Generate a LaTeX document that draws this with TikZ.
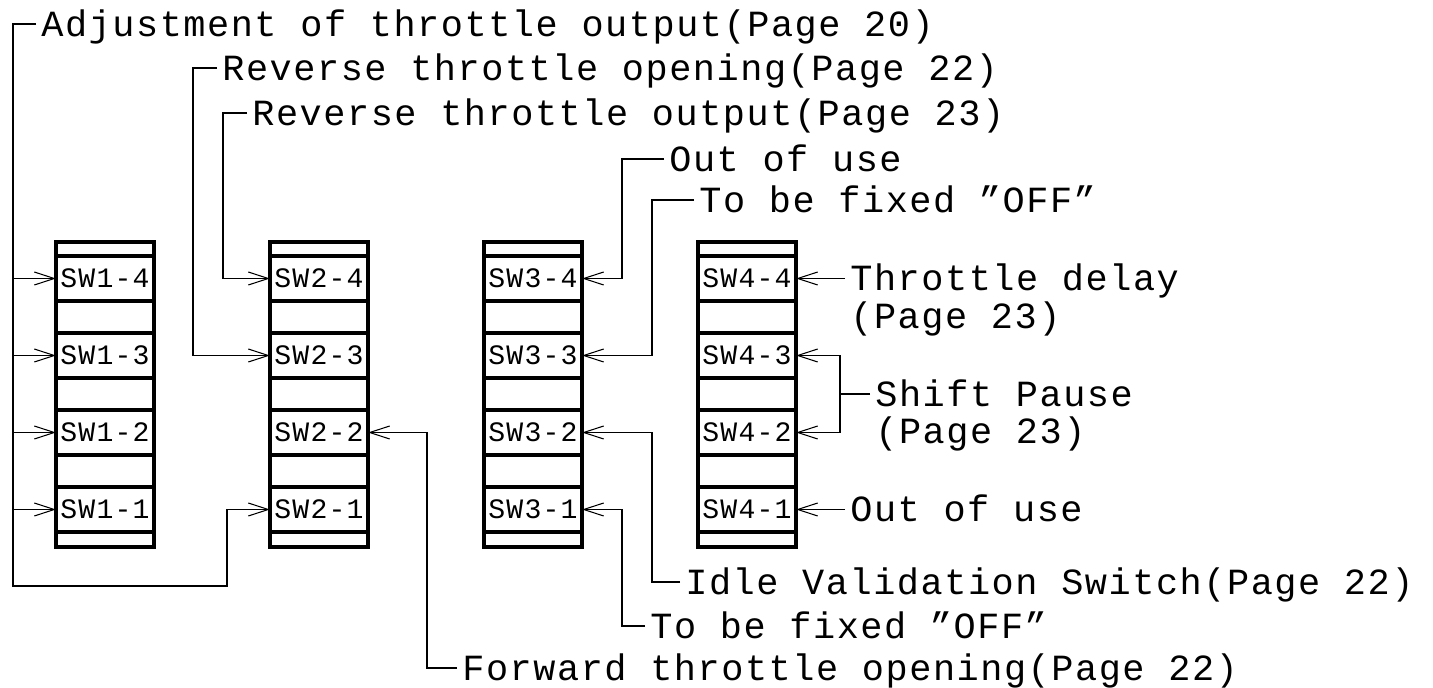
\documentclass[tikz,border=0pt]{standalone}
\usepackage{fontspec}
\newfontfamily\lblfont{Liberation Mono}[LetterSpace=4.2]
\usetikzlibrary{positioning, arrows.meta, calc}

\begin{document}
\begin{tikzpicture}[
    x=0.02cm, y=-0.02cm,
    cell/.style={
        rectangle,
        draw=black,
        line width=1.9pt,
        minimum width=1.96cm,
        minimum height=0.9cm,
        inner sep=0pt,
        outer sep=0pt,
        font=\lblfont\fontsize{16}{18}\selectfont
    },
    frame/.style={
        draw=black,
        line width=2.1pt
    },
    lbl/.style={
        anchor=west,
        inner xsep=0.1cm,
        inner ysep=0pt,
        text height=13.8pt,
        text depth=0pt,
        font=\lblfont\fontsize{21}{25}\selectfont
    },
    wire/.style={
        draw=black,
        line width=0.6pt
    },
    arr/.style={
        wire,
        -{Straight Barb[length=0.4cm, width=0.26cm]}
    }
]
    \useasboundingbox (0,0) rectangle (1433,688);

    % Switch blocks
    \foreach \c/\cx in {1/105, 2/319, 3/533, 4/747} {
        \draw[frame] (\cx-49, 242) rectangle (\cx+49, 547);
        \foreach \r/\cy in {4/278.5, 3/355.5, 2/432.5, 1/509.5}
            \node[cell] (sw\c\r) at (\cx, \cy) {SW\c-\r};
    }

    % Labels, top
    \node[lbl] (adj) at (36, 24) {Adjustment of throttle output(Page 20)};
    \node[lbl] (rto) at (217, 68) {Reverse throttle opening(Page 22)};
    \node[lbl] (rtu) at (247, 113) {Reverse throttle output(Page 23)};
    \node[lbl] (oou) at (664, 159) {Out of use};
    \node[lbl] (tbf) at (694, 200) {To be fixed ”OFF”};

    % Labels, right
    \node[lbl] (thd) at (845, 278.5) {Throttle delay};
    \node[lbl, below=0.25cm of thd.south west, anchor=north west] (thdp) {(Page 23)};
    \node[lbl] (shp) at (870, 394) {Shift Pause};
    \node[lbl, below=0.25cm of shp.south west, anchor=north west] (shpp) {(Page 23)};
    \node[lbl] (ouu) at (845, 509.5) {Out of use};

    % Labels, bottom
    \node[lbl] (ivs) at (680, 582) {Idle Validation Switch(Page 22)};
    \node[lbl] (tbo) at (645, 626) {To be fixed ”OFF”};
    \node[lbl] (fto) at (457, 668) {Forward throttle opening(Page 22)};

    % Corner columns of the leaders
    \coordinate (kA) at (13, 0);
    \coordinate (kB) at (193, 0);
    \coordinate (kC) at (223, 0);
    \coordinate (kD) at (622, 0);
    \coordinate (kE) at (652, 0);
    \coordinate (kF) at (427, 0);
    \coordinate (kG) at (840, 0);
    \coordinate (kH) at (227, 586);

    % Adjustment bus to SW1 and SW2-1
    \draw[arr] (adj.west) -| (kA |- kH) -- (kH) |- (sw21.west);
    \foreach \r in {1,...,4}
        \draw[arr] (kA |- sw1\r.west) -- (sw1\r.west);

    % SW2 leaders
    \draw[arr] (rto.west) -| (kB |- sw23.west) -- (sw23.west);
    \draw[arr] (rtu.west) -| (kC |- sw24.west) -- (sw24.west);
    \draw[arr] (fto.west) -| (kF |- sw22.east) -- (sw22.east);

    % SW3 leaders
    \draw[arr] (oou.west) -| (kD |- sw34.east) -- (sw34.east);
    \draw[arr] (tbf.west) -| (kE |- sw33.east) -- (sw33.east);
    \draw[arr] (ivs.west) -| (kE |- sw32.east) -- (sw32.east);
    \draw[arr] (tbo.west) -| (kD |- sw31.east) -- (sw31.east);

    % SW4 leaders
    \draw[arr] (thd.west) -- (sw44.east);
    \draw[arr] (ouu.west) -- (sw41.east);
    \draw[wire] (shp.west) -- (kG |- shp.west);
    \draw[arr] (kG |- shp.west) |- (sw43.east);
    \draw[arr] (kG |- shp.west) |- (sw42.east);

\end{tikzpicture}
\end{document}
